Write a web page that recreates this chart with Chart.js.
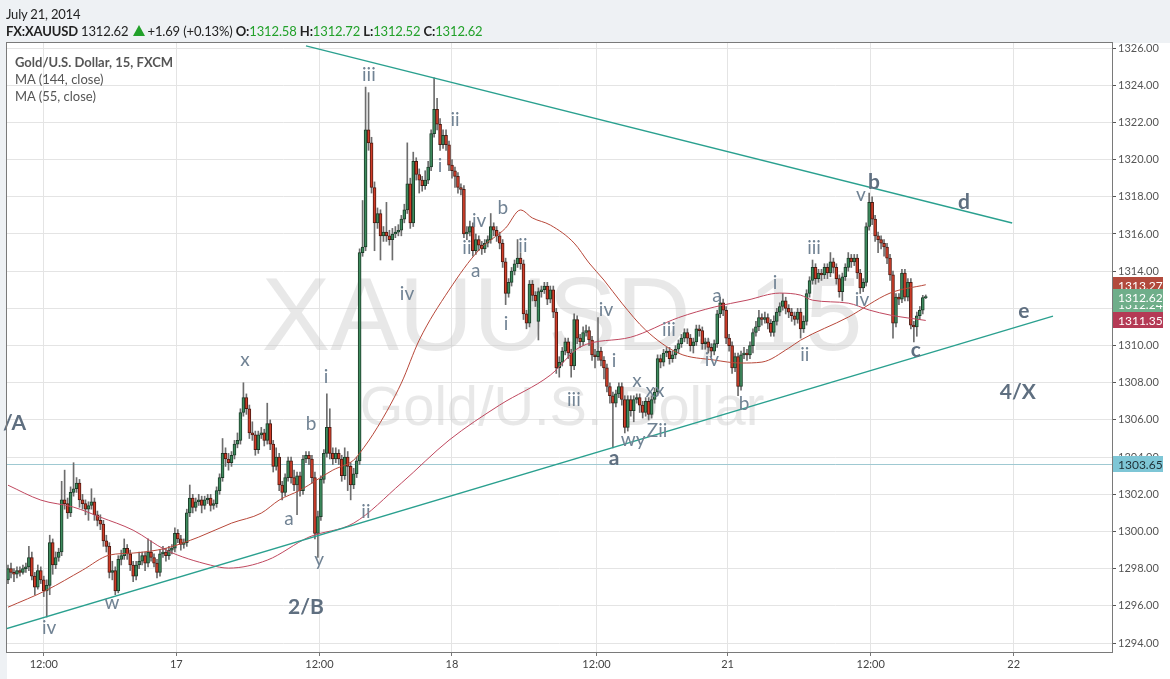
<!DOCTYPE html>
<html>
<head>
<meta charset="utf-8">
<script src="https://cdn.jsdelivr.net/npm/chart.js@4.4.1/dist/chart.umd.min.js"></script>
<style>
  html, body { margin: 0; padding: 0; background: #fff; }
  #wrap { position: relative; width: 1170px; height: 679px; overflow: hidden; }
  #c { position: absolute; left: 0; top: 0; }
  .txt { position: absolute; font-family: Lato, "Open Sans", sans-serif; white-space: nowrap; }
  #date { left: 6px; top: 6px; font-size: 13px; letter-spacing: -0.2px; color: #222; }
  #quote { left: 6px; top: 23px; font-size: 13px; letter-spacing: -0.15px; color: #222; }
  #quote b { font-weight: 700; }
  #quote .g { color: #22a12a; }
  #quote .tri { display: inline-block; width: 0; height: 0; margin: 0 3px 0 1px;
    border-left: 6px solid transparent; border-right: 6px solid transparent; border-bottom: 11px solid #22a12a; }
  #legend { left: 15px; top: 54px; font-size: 13px; color: #555; line-height: 17px; }
  #legend b { font-weight: 700; }
</style>
</head>
<body>
<div id="wrap">
  <canvas id="c" width="1170" height="679"></canvas>
  <div class="txt" id="date">July 21, 2014</div>
  <div class="txt" id="quote"><b>FX:XAUUSD</b> 1312.62 <span class="tri"></span>+1.69 (+0.13%) <b>O:</b><span class="g">1312.58</span> <b>H:</b><span class="g">1312.72</span> <b>L:</b><span class="g">1312.52</span> <b>C:</b><span class="g">1312.62</span></div>
  <div class="txt" id="legend"><b>Gold/U.S. Dollar, 15, FXCM</b><br>MA (144, close)<br>MA (55, close)</div>
</div>
<script>
// 15 minute candles (bar index 0 = first candle on the left)
const opens = [
  1297.4,1298.0,1297.8,1297.7,1297.9,1297.8,1298.0,1298.1,1298.6,1297.6,
  1297.0,1297.9,1297.4,1296.8,1297.1,1299.4,1298.2,1298.6,1298.9,1301.7,
  1301.5,1301.0,1302.1,1302.3,1302.6,1301.7,1301.5,1301.2,1301.4,1301.6,
  1300.9,1300.6,1300.4,1299.5,1299.2,1297.8,1297.9,1296.8,1298.5,1298.7,
  1299.1,1298.8,1298.2,1297.6,1298.2,1298.4,1298.7,1298.3,1298.9,1298.6,
  1298.3,1297.8,1298.8,1298.9,1298.7,1299.0,1299.1,1299.9,1299.6,1299.3,
  1299.4,1301.0,1301.8,1301.3,1301.6,1301.7,1301.4,1301.7,1301.8,1301.4,
  1301.5,1302.2,1302.9,1304.2,1303.9,1303.7,1304.1,1304.7,1304.9,1306.4,
  1307.2,1306.6,1305.3,1305.2,1304.4,1305.2,1305.3,1304.9,1305.8,1304.7,
  1303.5,1304.0,1302.5,1302.1,1302.9,1303.8,1302.9,1302.5,1303.0,1302.2,
  1303.9,1304.1,1303.9,1302.9,1299.9,1300.8,1302.8,1304.2,1305.6,1304.2,
  1303.9,1304.2,1303.9,1303.0,1304.0,1303.5,1302.5,1303.1,1303.8,1315.0,
  1315.3,1321.6,1320.9,1318.5,1316.6,1317.1,1315.9,1316.1,1315.9,1315.7,
  1316.0,1316.1,1316.2,1316.8,1317.3,1318.7,1316.6,1319.9,1319.2,1318.9,
  1318.6,1318.9,1319.6,1321.4,1322.7,1321.9,1320.8,1321.3,1320.8,1319.7,
  1319.4,1319.1,1318.5,1318.4,1316.0,1316.1,1316.4,1315.1,1315.7,1315.4,
  1315.2,1315.5,1315.7,1316.4,1316.2,1315.9,1315.5,1314.5,1312.8,1313.4,
  1314.0,1314.4,1314.7,1314.4,1311.7,1311.2,1313.3,1312.7,1311.3,1312.9,
  1313.0,1313.2,1312.5,1313.0,1311.8,1308.8,1309.1,1309.7,1310.2,1309.6,
  1308.9,1311.4,1310.4,1310.2,1310.7,1310.8,1310.3,1309.5,1309.4,1309.7,
  1309.2,1308.8,1307.8,1307.3,1306.9,1307.4,1307.8,1307.1,1305.6,1307.1,
  1306.5,1307.1,1307.2,1306.8,1306.4,1307.0,1306.3,1307.1,1307.5,1309.3,
  1309.1,1309.6,1309.7,1309.3,1309.5,1309.8,1310.1,1310.4,1310.7,1310.4,
  1310.0,1310.2,1310.9,1310.8,1310.1,1310.2,1309.9,1309.7,1310.1,1311.7,
  1312.3,1311.9,1310.4,1310.0,1308.8,1309.4,1307.8,1309.5,1309.6,1309.5,
  1310.0,1310.7,1311.0,1311.5,1311.4,1311.5,1311.2,1310.7,1311.3,1311.8,
  1312.1,1312.4,1312.0,1311.8,1311.6,1311.4,1311.8,1310.9,1311.3,1312.8,
  1313.5,1314.2,1313.6,1313.9,1313.8,1314.2,1313.9,1314.5,1314.2,1313.6,
  1312.9,1313.7,1314.2,1314.7,1314.5,1314.7,1313.9,1313.1,1313.4,1316.4,
  1317.7,1316.8,1315.9,1315.7,1315.5,1315.3,1314.7,1313.8,1311.2,1312.6,
  1312.5,1313.9,1312.6,1313.4,1311.1,1311.0,1311.6,1311.9,1312.58
];
const highs = [
  1298.2,1298.3,1298.0,1298.1,1298.1,1298.2,1298.3,1299.2,1298.9,1297.8,
  1298.2,1298.1,1297.6,1297.4,1299.8,1299.6,1298.9,1299.1,1302.7,1303.3,
  1301.8,1302.4,1303.7,1302.9,1302.8,1302.0,1301.7,1301.6,1302.3,1301.8,
  1301.1,1300.9,1300.6,1299.8,1299.4,1298.4,1298.1,1298.7,1299.0,1299.6,
  1299.3,1299.0,1298.4,1298.4,1298.9,1298.9,1298.9,1299.6,1299.5,1298.8,
  1298.5,1299.0,1299.2,1299.1,1299.2,1299.3,1300.2,1300.1,1299.8,1299.6,
  1301.2,1302.5,1302.0,1301.8,1302.0,1301.9,1301.9,1302.0,1302.0,1301.7,
  1302.4,1303.1,1305.0,1304.5,1304.2,1304.3,1304.9,1305.3,1306.6,1308.0,
  1307.4,1306.8,1305.9,1305.4,1305.4,1305.6,1305.5,1306.9,1306.0,1304.9,
  1304.5,1304.2,1302.7,1303.1,1304.0,1304.0,1303.3,1303.2,1303.2,1304.1,
  1304.3,1304.3,1304.1,1303.2,1301.1,1303.0,1304.4,1307.4,1306.6,1304.5,
  1304.5,1304.4,1304.1,1304.5,1304.3,1303.7,1303.4,1304.0,1315.2,1317.8,
  1323.9,1323.6,1321.2,1318.8,1317.4,1317.3,1316.4,1317.7,1316.2,1316.3,
  1316.4,1316.5,1317.0,1317.6,1320.9,1319.0,1320.4,1320.1,1319.5,1319.1,
  1319.4,1319.9,1321.6,1324.4,1323.3,1322.2,1321.6,1321.6,1321.0,1320.0,
  1319.6,1319.3,1318.7,1318.6,1316.4,1316.7,1316.6,1316.0,1315.9,1315.6,
  1315.7,1315.9,1317.1,1316.6,1316.4,1316.1,1315.7,1314.7,1313.6,1314.2,
  1314.6,1315.7,1315.0,1314.6,1311.9,1313.5,1313.5,1312.9,1313.1,1313.2,
  1313.4,1313.4,1313.2,1313.2,1312.0,1309.4,1309.9,1310.4,1310.4,1309.8,
  1311.7,1311.6,1310.6,1311.0,1311.1,1311.0,1310.5,1309.8,1311.5,1309.9,
  1309.4,1309.0,1308.0,1307.5,1307.6,1308.0,1308.0,1307.3,1307.3,1307.3,
  1307.3,1307.4,1307.4,1307.0,1307.2,1307.2,1307.3,1307.7,1309.5,1309.5,
  1309.8,1309.9,1309.9,1309.7,1310.0,1310.3,1310.6,1310.9,1310.9,1310.6,
  1310.4,1311.1,1311.1,1311.0,1310.4,1310.4,1310.1,1310.3,1311.9,1312.6,
  1312.5,1312.1,1310.6,1310.2,1309.6,1309.6,1309.7,1309.9,1309.8,1310.2,
  1310.9,1311.3,1311.9,1311.7,1311.8,1311.7,1311.4,1311.6,1312.0,1312.3,
  1312.8,1312.6,1312.2,1312.0,1311.8,1312.0,1312.0,1311.6,1313.0,1313.7,
  1314.6,1314.4,1314.1,1314.1,1314.4,1314.4,1315.0,1314.7,1314.4,1313.8,
  1313.9,1314.4,1315.0,1314.9,1314.9,1314.9,1314.1,1313.6,1316.6,1318.2,
  1318.0,1317.0,1316.1,1315.9,1315.7,1315.5,1314.9,1314.0,1312.8,1312.8,
  1314.1,1314.1,1313.6,1313.6,1311.3,1311.8,1312.1,1312.7,1312.72
];
const lows = [
  1297.2,1297.5,1297.3,1297.5,1297.6,1297.7,1297.8,1297.9,1297.4,1296.6,
  1296.9,1297.2,1296.5,1295.4,1296.6,1297.7,1298.0,1298.4,1298.7,1301.2,
  1300.7,1300.8,1301.9,1302.1,1301.3,1301.2,1300.9,1300.6,1301.2,1300.6,
  1300.3,1300.1,1299.2,1298.9,1297.5,1297.4,1296.6,1296.7,1298.2,1298.5,
  1298.5,1297.9,1297.3,1297.4,1298.0,1298.2,1297.9,1298.1,1298.4,1298.1,
  1297.5,1297.6,1298.6,1298.4,1298.5,1298.8,1298.9,1299.4,1299.0,1299.1,
  1299.2,1300.8,1301.0,1301.1,1301.4,1301.0,1301.2,1301.5,1301.1,1301.2,
  1301.3,1302.0,1302.7,1303.5,1303.3,1303.5,1303.9,1304.5,1304.7,1306.2,
  1306.3,1305.0,1304.9,1304.1,1304.2,1305.0,1304.6,1304.7,1304.4,1303.2,
  1303.3,1302.2,1301.7,1301.9,1302.7,1302.6,1302.2,1300.9,1301.9,1302.0,
  1303.7,1303.6,1302.6,1299.6,1298.6,1300.6,1302.6,1304.0,1303.9,1303.6,
  1303.7,1303.6,1302.7,1302.8,1302.2,1301.7,1302.3,1302.9,1303.6,1314.8,
  1315.1,1320.5,1318.2,1315.1,1316.3,1314.6,1315.6,1315.6,1315.4,1314.6,
  1315.8,1315.9,1315.9,1316.6,1317.1,1316.3,1316.4,1318.9,1318.2,1318.3,
  1318.4,1318.7,1319.4,1321.2,1321.6,1320.5,1320.6,1320.5,1319.4,1319.0,
  1318.5,1318.2,1318.1,1315.8,1315.7,1315.9,1314.8,1314.9,1315.1,1314.9,
  1315.0,1315.3,1315.5,1315.9,1315.6,1315.2,1314.2,1312.2,1312.6,1313.2,
  1313.8,1314.2,1314.1,1311.4,1310.9,1311.0,1312.4,1312.1,1310.3,1312.6,
  1312.8,1312.2,1312.3,1311.5,1308.5,1308.3,1308.9,1309.5,1309.3,1308.3,
  1308.7,1310.1,1309.9,1310.0,1310.5,1310.0,1309.2,1308.8,1309.2,1308.9,
  1308.2,1307.5,1306.9,1304.5,1306.7,1307.2,1306.8,1305.3,1305.4,1306.2,
  1305.9,1306.9,1306.4,1306.1,1306.2,1306.0,1306.1,1306.9,1307.3,1308.8,
  1308.9,1309.4,1309.0,1309.1,1309.3,1309.6,1309.9,1310.2,1310.1,1309.7,
  1309.6,1310.0,1310.5,1309.8,1309.8,1309.6,1309.4,1309.5,1309.9,1311.5,
  1311.6,1310.1,1309.7,1308.5,1308.6,1307.3,1307.6,1309.3,1309.2,1309.3,
  1309.6,1310.5,1310.8,1311.1,1311.2,1310.9,1310.5,1310.5,1311.1,1311.6,
  1311.9,1311.7,1311.5,1311.3,1311.1,1311.2,1310.4,1310.7,1311.1,1312.6,
  1313.3,1313.3,1313.4,1313.5,1313.6,1313.6,1313.7,1313.9,1313.3,1312.6,
  1312.4,1313.5,1314.0,1314.2,1314.3,1313.6,1312.8,1312.9,1313.2,1316.2,
  1316.5,1315.6,1315.0,1315.2,1314.8,1314.4,1313.5,1310.4,1311.0,1312.2,
  1312.3,1312.4,1312.4,1310.9,1310.2,1310.5,1311.4,1311.7,1312.52
];
const closes = [
  1298.0,1297.8,1297.7,1297.9,1297.8,1298.0,1298.1,1298.6,1297.6,1297.0,
  1297.9,1297.4,1296.8,1297.1,1299.4,1298.2,1298.6,1298.9,1301.7,1301.5,
  1301.0,1302.1,1302.3,1302.6,1301.7,1301.5,1301.2,1301.4,1301.6,1300.9,
  1300.6,1300.4,1299.5,1299.2,1297.8,1297.9,1296.8,1298.5,1298.7,1299.1,
  1298.8,1298.2,1297.6,1298.2,1298.4,1298.7,1298.3,1298.9,1298.6,1298.3,
  1297.8,1298.8,1298.9,1298.7,1299.0,1299.1,1299.9,1299.6,1299.3,1299.4,
  1301.0,1301.8,1301.3,1301.6,1301.7,1301.4,1301.7,1301.8,1301.4,1301.5,
  1302.2,1302.9,1304.2,1303.9,1303.7,1304.1,1304.7,1304.9,1306.4,1307.2,
  1306.6,1305.3,1305.2,1304.4,1305.2,1305.3,1304.9,1305.8,1304.7,1303.5,
  1304.0,1302.5,1302.1,1302.9,1303.8,1302.9,1302.5,1303.0,1302.2,1303.9,
  1304.1,1303.9,1302.9,1299.9,1300.8,1302.8,1304.2,1305.6,1304.2,1303.9,
  1304.2,1303.9,1303.0,1304.0,1303.5,1302.5,1303.1,1303.8,1315.0,1315.3,
  1321.6,1320.9,1318.5,1316.6,1317.1,1315.9,1316.1,1315.9,1315.7,1316.0,
  1316.1,1316.2,1316.8,1317.3,1318.7,1316.6,1319.9,1319.2,1318.9,1318.6,
  1318.9,1319.6,1321.4,1322.7,1321.9,1320.8,1321.3,1320.8,1319.7,1319.4,
  1319.1,1318.5,1318.4,1316.0,1316.1,1316.4,1315.1,1315.7,1315.4,1315.2,
  1315.5,1315.7,1316.4,1316.2,1315.9,1315.5,1314.5,1312.8,1313.4,1314.0,
  1314.4,1314.7,1314.4,1311.7,1311.2,1313.3,1312.7,1312.4,1312.9,1313.0,
  1313.2,1312.5,1313.0,1311.8,1308.8,1309.1,1309.7,1310.2,1309.6,1308.9,
  1311.4,1310.4,1310.2,1310.7,1310.8,1310.3,1309.5,1309.4,1309.7,1309.2,
  1308.8,1307.8,1307.3,1306.9,1307.4,1307.8,1307.1,1305.6,1307.1,1306.5,
  1307.1,1307.2,1306.8,1306.4,1307.0,1306.3,1307.1,1307.5,1309.3,1309.1,
  1309.6,1309.7,1309.3,1309.5,1309.8,1310.1,1310.4,1310.7,1310.4,1310.0,
  1310.2,1310.9,1310.8,1310.1,1310.2,1309.9,1309.7,1310.1,1311.7,1312.3,
  1311.9,1310.4,1310.0,1308.8,1309.4,1307.8,1309.5,1309.6,1309.5,1310.0,
  1310.7,1311.0,1311.5,1311.4,1311.5,1311.2,1310.7,1311.3,1311.8,1312.1,
  1312.4,1312.0,1311.8,1311.6,1311.4,1311.8,1310.9,1311.3,1312.8,1313.5,
  1314.2,1313.6,1313.9,1313.8,1314.2,1313.9,1314.5,1314.2,1313.6,1312.9,
  1313.7,1314.2,1314.7,1314.5,1314.7,1313.9,1313.1,1313.4,1316.4,1317.7,
  1316.8,1315.9,1315.7,1315.5,1315.3,1314.7,1313.8,1311.2,1312.6,1312.5,
  1313.9,1312.6,1313.4,1311.1,1311.0,1311.6,1311.9,1312.58,1312.62
];

// moving averages, read at a few bars along each curve
const ma144Bars = [0, 11, 22, 31, 42, 53, 68, 74, 87, 101, 116, 132, 148, 165, 182, 192, 209, 225, 237, 248, 259, 266, 270, 282, 289, 296, 308];
const ma144Vals = [1302.49, 1301.69, 1301.31, 1300.77, 1300.07, 1299.0, 1298.19, 1298.03, 1298.46, 1299.70, 1300.45, 1302.60, 1304.91, 1306.80, 1308.41, 1309.92, 1310.45, 1311.5, 1312.07, 1312.44, 1312.82, 1312.71, 1312.44, 1312.28, 1311.91, 1311.64, 1311.35];
const ma55Bars = [0, 13, 25, 34, 42, 53, 64, 75, 85, 91, 98, 109, 116, 118, 124, 132, 138, 148, 158, 167, 172, 176, 182, 190, 195, 200, 206, 214, 225, 237, 246, 253, 262, 266, 282, 296, 308];
const ma55Vals = [1295.93, 1296.85, 1297.92, 1298.73, 1298.84, 1299.10, 1299.70, 1300.45, 1300.99, 1301.69, 1302.22, 1303.30, 1303.84, 1304.21, 1305.61, 1307.98, 1310.29, 1312.98, 1315.13, 1316.32, 1317.29, 1316.86, 1316.48, 1315.51, 1314.44, 1313.52, 1312.28, 1310.83, 1309.59, 1309.22, 1309.06, 1309.11, 1309.86, 1310.29, 1311.53, 1312.82, 1313.27];

// trend lines (bar, price) at both ends
const upperTrendBars = [100, 337];
const upperTrendVals = [1326.11, 1316.59];
const lowerTrendBars = [-1, 350.7];
const lowerTrendVals = [1294.75, 1311.58];

// wave labels: text, bar, price, bold
const waveLabels = [
  ['iv', 13.8, 1294.80, 0], ['w', 34.9, 1296.15, 0], ['x', 79.5, 1309.22, 0],
  ['b', 101.7, 1305.78, 0], ['a', 94.3, 1300.67, 0], ['i', 106.7, 1308.30, 0],
  ['y', 104.4, 1298.46, 0], ['ii', 120.1, 1301.04, 0], ['iii', 121.1, 1324.55, 0],
  ['iv', 133.9, 1312.77, 0], ['ii', 150.0, 1322.13, 0], ['i', 145.0, 1319.65, 0],
  ['iv', 158.1, 1316.69, 0], ['b', 166.1, 1317.39, 0], ['ii', 154.0, 1315.24, 0],
  ['a', 157.0, 1314.00, 0], ['ii', 172.8, 1315.35, 0], ['i', 167.1, 1311.15, 0],
  ['iii', 189.9, 1307.07, 0], ['iv', 200.7, 1311.91, 0], ['i', 203.4, 1309.16, 0],
  ['x', 211.1, 1308.09, 0], ['xx', 217.1, 1307.55, 0], ['wy', 209.8, 1304.91, 0],
  ['Zii', 217.8, 1305.40, 0], ['iii', 221.8, 1310.83, 0], ['iv', 236.2, 1309.22, 0],
  ['a', 237.9, 1312.66, 0], ['b', 247.0, 1306.85, 0], ['i', 257.4, 1313.36, 0],
  ['ii', 267.4, 1309.49, 0], ['iii', 270.5, 1315.24, 0], ['iv', 286.6, 1312.44, 0],
  ['v', 286.2, 1318.09, 0],
  ['a', 203.4, 1303.95, 1], ['b', 290.6, 1318.79, 1], ['c', 304.7, 1309.76, 1],
  ['d', 320.8, 1317.72, 1], ['e', 340.9, 1311.85, 1], ['4/X', 338.9, 1307.50, 1],
  ['2/B', 100.0, 1295.93, 1], ['/A', 2.2, 1305.83, 1]
];

const xTickBars = [12, 56.5, 104.5, 149, 197.5, 241.5, 289.5, 337.5];
const xTickLabels = ['12:00', '17', '12:00', '18', '12:00', '21', '12:00', '22'];
const priceTicks = [1294, 1296, 1298, 1300, 1302, 1304, 1306, 1308, 1310, 1312, 1314, 1316, 1318, 1320, 1322, 1324, 1326];

// price tags on the right axis
const tagValues = [1303.65, 1312.24, 1313.27, 1312.62, 1311.35];
const tagFills = ['#7ec6d6', '#6fae8a', '#b24a3c', '#6fae8a', '#b43a55'];
const tagTexts = ['#1f2f35', '#ffffff', '#ffffff', '#ffffff', '#ffffff'];
const lastLine = 1303.65;

const UP = '#3d8b5d', UP_EDGE = '#1c3d29';
const DN = '#d03c28', DN_EDGE = '#4e1a12';

const wickData = opens.map((o, i) => ({ x: i, y: [lows[i], highs[i]] }));
const bodyData = opens.map((o, i) => ({ x: i, y: [o, closes[i]] }));
const isUp = opens.map((o, i) => closes[i] >= o);

const pts = (bars, vals) => bars.map((b, i) => ({ x: b, y: vals[i] }));

const backdrop = {
  id: 'backdrop',
  beforeDraw(chart) {
    const { ctx, chartArea: a } = chart;
    ctx.save();
    ctx.fillStyle = '#eef1f4';
    ctx.fillRect(0, 0, chart.width, chart.height);
    ctx.fillStyle = '#ffffff';
    ctx.fillRect(a.left, a.top, chart.width - a.left, chart.height - a.top);
    ctx.restore();
  },
  beforeDatasetsDraw(chart) {
    const { ctx, chartArea: a, scales: { y } } = chart;
    ctx.save();
    ctx.beginPath();
    ctx.rect(a.left, a.top, a.width, a.height);
    ctx.clip();
    ctx.fillStyle = 'rgba(200,200,200,0.42)';
    ctx.textAlign = 'center';
    ctx.textBaseline = 'alphabetic';
    ctx.font = '103px "Liberation Sans", Arial, sans-serif';
    ctx.fillText('XAUUSD, 15', 562, 350);
    ctx.font = '56px "Liberation Sans", Arial, sans-serif';
    ctx.fillText('Gold/U.S. Dollar', 562, 425);
    const yl = Math.round(y.getPixelForValue(lastLine)) + 0.5;
    ctx.strokeStyle = '#9fc9d2';
    ctx.lineWidth = 1;
    ctx.beginPath();
    ctx.moveTo(a.left, yl);
    ctx.lineTo(a.right, yl);
    ctx.stroke();
    ctx.restore();
  },
  afterDraw(chart) {
    const { ctx, chartArea: a, scales: { x, y } } = chart;
    ctx.save();
    ctx.beginPath();
    ctx.rect(0, a.top, a.right, a.height);
    ctx.clip();
    ctx.textAlign = 'center';
    ctx.textBaseline = 'middle';
    waveLabels.forEach(([t, b, p, bold]) => {
      ctx.font = bold ? 'bold 21px Lato, "Open Sans", sans-serif' : '19px Lato, "Open Sans", sans-serif';
      ctx.fillStyle = bold ? '#5f6f80' : '#718394';
      ctx.fillText(t, x.getPixelForValue(b), y.getPixelForValue(p));
    });
    ctx.restore();

    ctx.save();
    ctx.strokeStyle = '#7a7a7a';
    ctx.lineWidth = 1;
    ctx.strokeRect(a.left - 0.5, a.top - 0.5, a.width + 1, a.height + 1);
    ctx.font = '12px Lato, "Open Sans", sans-serif';
    ctx.textAlign = 'left';
    ctx.textBaseline = 'middle';
    tagValues.forEach((v, i) => {
      const yc = Math.round(y.getPixelForValue(v));
      ctx.fillStyle = tagFills[i];
      ctx.fillRect(a.right + 1, yc - 8, 50, 16);
      ctx.fillStyle = tagTexts[i];
      ctx.fillText(v.toFixed(2), a.right + 6, yc + 1);
    });
    ctx.restore();
  }
};

new Chart(document.getElementById('c'), {
  type: 'bar',
  data: {
    datasets: [
      { type: 'line', data: pts(upperTrendBars, upperTrendVals), borderColor: '#2aa08f', borderWidth: 1.3, pointRadius: 0, order: 0 },
      { type: 'line', data: pts(lowerTrendBars, lowerTrendVals), borderColor: '#2aa08f', borderWidth: 1.3, pointRadius: 0, order: 0 },
      { type: 'line', data: pts(ma144Bars, ma144Vals), borderColor: '#c0485f', borderWidth: 1, pointRadius: 0, cubicInterpolationMode: 'monotone', order: 1 },
      { type: 'line', data: pts(ma55Bars, ma55Vals), borderColor: '#b8483a', borderWidth: 1, pointRadius: 0, cubicInterpolationMode: 'monotone', order: 1 },
      { data: bodyData, backgroundColor: isUp.map(u => u ? UP : DN), borderColor: isUp.map(u => u ? UP_EDGE : DN_EDGE),
        borderWidth: 1, borderSkipped: false, barThickness: 3, minBarLength: 1, grouped: false, order: 2 },
      { data: wickData, backgroundColor: '#6d6d6d', borderWidth: 0, barThickness: 1, grouped: false, order: 3 }
    ]
  },
  options: {
    responsive: false,
    animation: false,
    devicePixelRatio: 1,
    layout: { padding: { top: 43, left: 7, right: 0, bottom: 0 } },
    plugins: { legend: { display: false }, tooltip: { enabled: false } },
    scales: {
      x: {
        type: 'linear', min: -0.34, max: 370.5, offset: false,
        grid: { color: '#e4e4e4', offset: false, tickLength: 4, tickColor: '#777' },
        border: { color: '#7a7a7a' },
        afterBuildTicks: s => { s.ticks = xTickBars.map(v => ({ value: v })); },
        afterFit: s => { s.height = 27; },
        ticks: { autoSkip: false, maxRotation: 0, padding: 2, color: '#444', font: { family: 'Lato', size: 11 },
          callback: (v, i) => xTickLabels[i] }
      },
      y: {
        type: 'linear', position: 'right', min: 1293.52, max: 1326.27,
        grid: { color: '#e4e4e4', tickLength: 4, tickColor: '#555' },
        border: { color: '#555' },
        afterBuildTicks: s => { s.ticks = priceTicks.map(v => ({ value: v })); },
        afterFit: s => { s.width = 58; },
        ticks: { padding: 2, color: '#555', font: { family: 'Lato', size: 11 }, callback: v => v.toFixed(2) }
      }
    }
  },
  plugins: [backdrop]
});
</script>
</body>
</html>
